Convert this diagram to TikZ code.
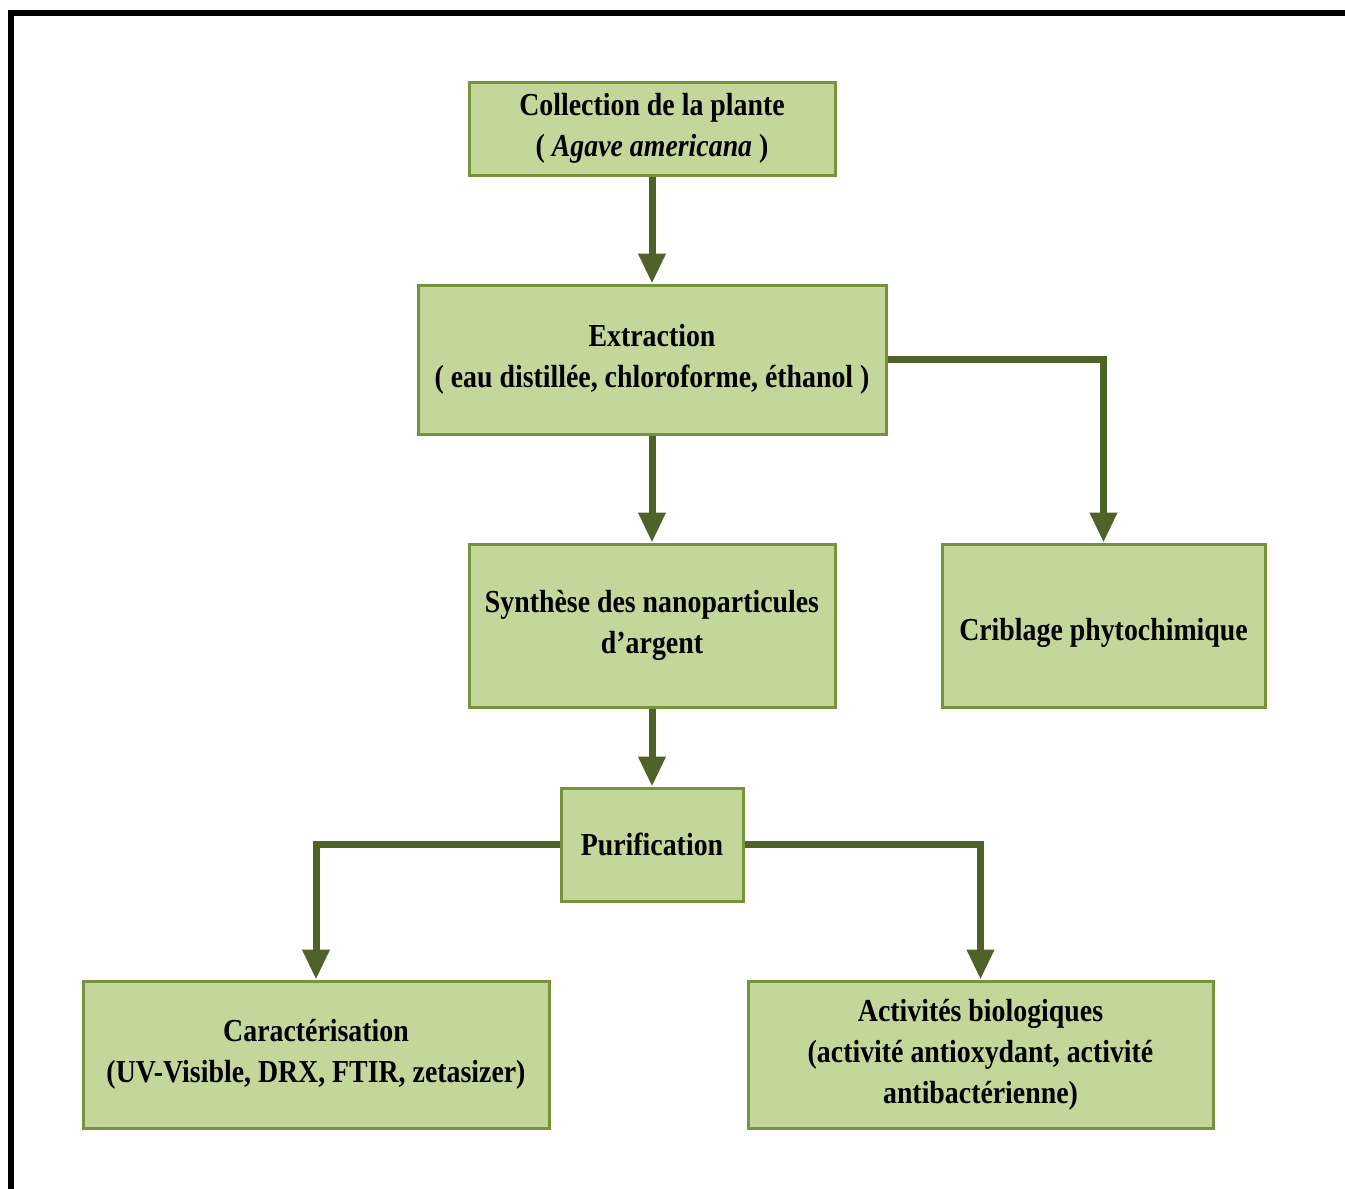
\documentclass[tikz,border=0pt]{standalone}
\usepackage{fontspec}
\setmainfont[FakeStretch=0.87]{Liberation Serif}
\usetikzlibrary{arrows.meta}
\definecolor{remplissage}{HTML}{C4D79B}
\definecolor{bordure}{HTML}{77933C}
\definecolor{fleche}{HTML}{4F6228}

\begin{document}
\begin{tikzpicture}[x=1pt, y=-1pt, font=\fontsize{32}{41}\selectfont\bfseries,
			etape/.style={draw=bordure, fill=remplissage, line width=3pt, align=center, inner sep=0pt},
			lien/.style={draw=fleche, line width=7pt, -{Triangle[width=26pt, length=30pt]}},
			cadre/.style={draw=black, line width=6pt}]
			\useasboundingbox (0,0) rectangle (1345,1189);
			\draw[cadre] (11,1189) -- (11,13) -- (1345,13);
			\node[etape, minimum width=366pt, minimum height=93pt] (coll) at (652,128.5)
				{Collection de la plante\\ ( \textit{Agave americana} )};
			\node[etape, minimum width=468pt, minimum height=149pt] (extr) at (652,359.5)
				{Extraction\\ ( eau distillée, chloroforme, éthanol )};
			\node[etape, minimum width=366pt, minimum height=163pt] (synt) at (652,625.5)
				{Synthèse des nanoparticules\\ d’argent};
			\node[etape, minimum width=323pt, minimum height=163pt] (crib) at (1103.5,625.5)
				{\rule{0pt}{38pt}Criblage phytochimique};
			\node[etape, minimum width=182pt, minimum height=113pt] (puri) at (652,844.5)
				{Purification};
			\node[etape, minimum width=466pt, minimum height=147pt] (cara) at (316,1054.5)
				{Caractérisation\\ (UV-Visible, DRX, FTIR, zetasizer)};
			\node[etape, minimum width=465pt, minimum height=147pt] (acti) at (980.5,1054.5)
				{Activités biologiques\\ (activité antioxydant, activité\\ antibactérienne)};
			\draw[lien] (coll.south) -- (extr.north);
			\draw[lien] (extr.south) -- (synt.north);
			\draw[lien] (extr.east) -| (crib.north);
			\draw[lien] (synt.south) -- (puri.north);
			\draw[lien] (puri.west) -| (cara.north);
			\draw[lien] (puri.east) -| (acti.north);
		\end{tikzpicture}
\end{document}
